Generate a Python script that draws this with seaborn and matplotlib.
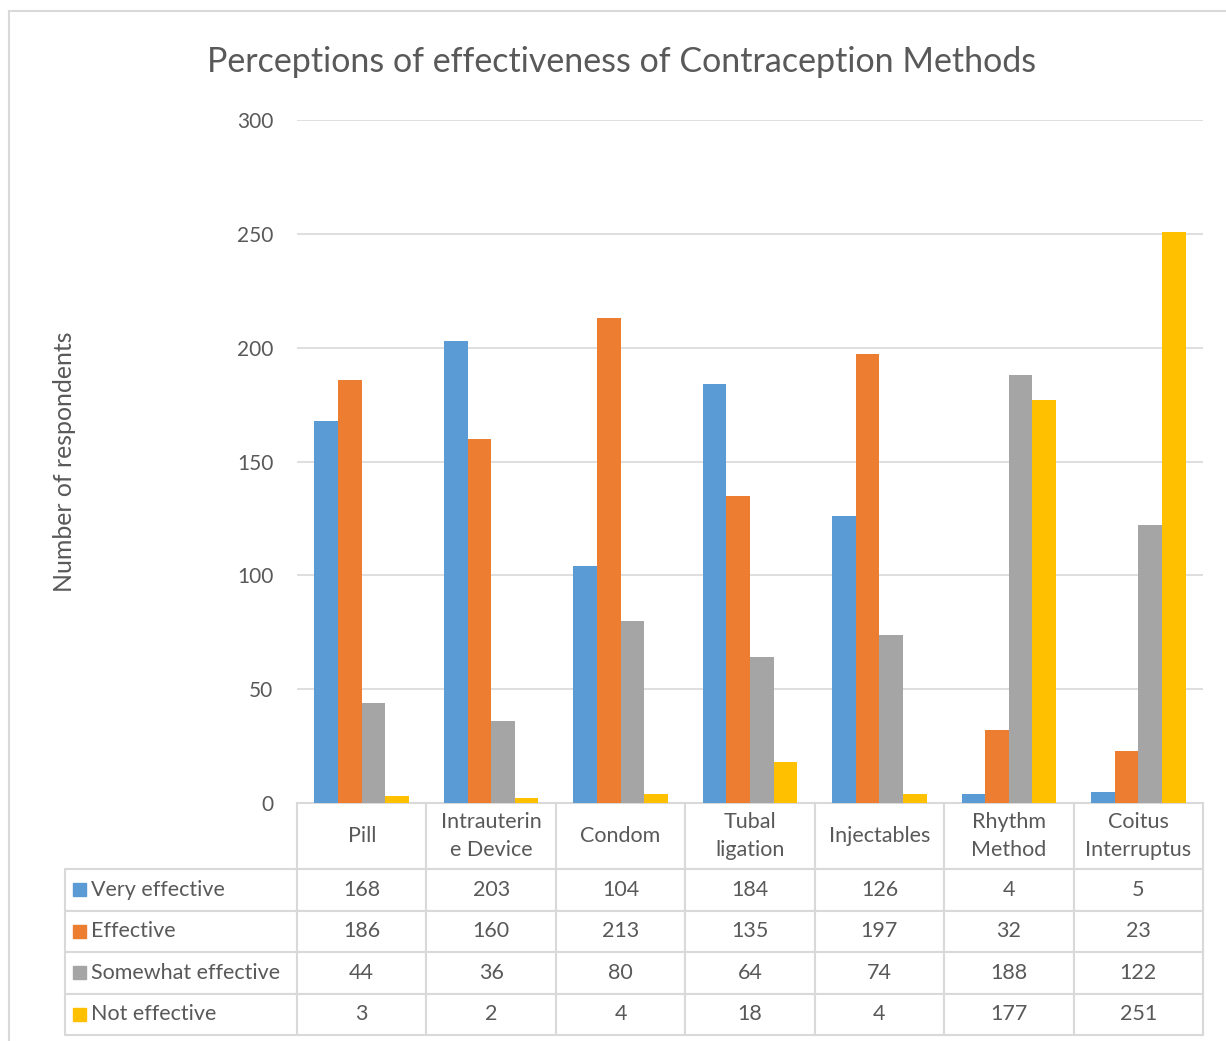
import pandas as pd
import seaborn as sns
import matplotlib.pyplot as plt
from matplotlib.patches import Rectangle

methods = ['Pill', 'Intrauterine Device', 'Condom', 'Tubal ligation',
           'Injectables', 'Rhythm Method', 'Coitus Interruptus']
method_labels = ['Pill', 'Intrauterin\ne Device', 'Condom', 'Tubal\nligation',
                 'Injectables', 'Rhythm\nMethod', 'Coitus\nInterruptus']
ratings = ['Very effective', 'Effective', 'Somewhat effective', 'Not effective']
very_effective = [168, 203, 104, 184, 126, 4, 5]
effective = [186, 160, 213, 135, 197, 32, 23]
somewhat_effective = [44, 36, 80, 64, 74, 188, 122]
not_effective = [3, 2, 4, 18, 4, 177, 251]
colors = ['#5B9BD5', '#ED7D31', '#A5A5A5', '#FFC000']

series = [very_effective, effective, somewhat_effective, not_effective]
rows = []
for rating, vals in zip(ratings, series):
    for m, v in zip(methods, vals):
        rows.append({'Method': m, 'Rating': rating, 'Respondents': v})
df = pd.DataFrame(rows)

sns.set_theme(style='white')
plt.rcParams['font.family'] = ['Lato', 'DejaVu Sans']
text_color = '#595959'
line_color = '#d9d9d9'

W, H = 1226, 1041
fig = plt.figure(figsize=(W / 100, H / 100), dpi=100)
ax = fig.add_axes([297 / W, 1 - 803 / H, 906 / W, 683 / H])

sns.barplot(data=df, x='Method', y='Respondents', hue='Rating', order=methods,
            hue_order=ratings, palette=colors, width=0.73, gap=0, saturation=1,
            linewidth=0, legend=False, ax=ax)

ax.set_xlim(-0.5, 6.5)
ax.set_ylim(0, 300)
ax.set_yticks(range(0, 301, 50))
ax.set_xticklabels([])
ax.set_xlabel('')
ax.set_ylabel('')
ax.tick_params(axis='x', length=0)
ax.tick_params(axis='y', length=0, pad=17, labelsize=15, labelcolor=text_color)
ax.yaxis.grid(True, color=line_color, lw=1.2)
ax.set_axisbelow(True)
for s in ax.spines.values():
    s.set_visible(False)

# Data table under the bars (first column holds the series names)
cell_text = [[rating] + [str(v) for v in vals] for rating, vals in zip(ratings, series)]
tbl = ax.table(cellText=cell_text, colLabels=[''] + method_labels,
               cellLoc='center', bbox=[-232 / 906, -232 / 683, 1138 / 906, 232 / 683])
tbl.auto_set_font_size(False)
tbl.set_fontsize(15.5)
for (r, c), cell in tbl.get_celld().items():
    cell.set_edgecolor(line_color)
    cell.set_linewidth(1.5)
    txt = cell.get_text()
    txt.set_color(text_color)
    txt.set_linespacing(1.5)
    cell.set_width(232 / 906 if c == 0 else 1 / 7)
    cell.set_height(66 / 683 if r == 0 else 41.5 / 683)
    if c == 0:
        txt.set_horizontalalignment('left')
        cell.PAD = 0.112
    if r == 0 and c == 0:
        cell.set_visible(False)

# legend swatches inside the row labels
for i, col in enumerate(colors):
    yc = 869 + 41.5 * i + 20.75
    ax.add_patch(Rectangle(((73 - 297) / 906, -(yc - 803) / 683 - 6.5 / 683),
                           13 / 906, 13 / 683, transform=ax.transAxes,
                           color=col, clip_on=False, zorder=5))

fig.text(622 / W, 1 - 62 / H, 'Perceptions of effectiveness of Contraception Methods',
         ha='center', va='center', fontsize=24.5, color=text_color)
fig.text(65 / W, 1 - 462 / H, 'Number of respondents', rotation=90,
         ha='center', va='center', fontsize=17.9, color=text_color)

# chart frame
fig.patches.append(Rectangle((9 / W, -0.05), 1.1, 1 - 11 / H + 0.05,
                             transform=fig.transFigure, fill=False,
                             ec=line_color, lw=1.5))

fig.savefig('out.png', dpi=100)
